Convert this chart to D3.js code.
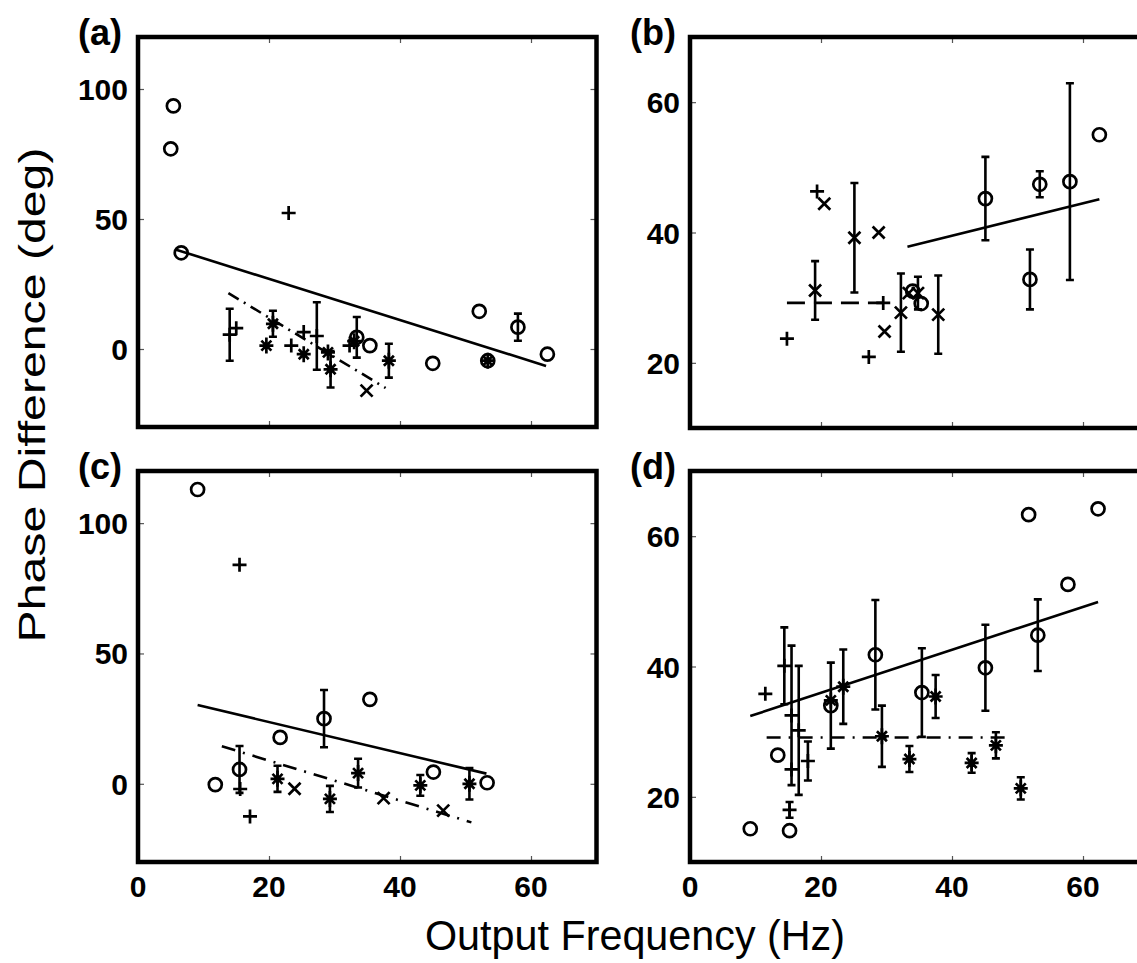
<!DOCTYPE html>
<html>
<head>
<meta charset="utf-8">
<script src="https://cdn.jsdelivr.net/npm/d3@7"></script>
<style>
  body { margin: 0; background: #fff; }
  svg { display: block; }
  text { font-family: 'Liberation Sans', Arial, sans-serif; }
</style>
</head>
<body>
<div id="chart"></div>
<script>
// values: [freq (Hz), phase (deg), error]
const aCircle = [[5.4, 93.5, 0], [5.0, 77, 0], [6.6, 37, 0], [33.4, 4.5, 7.8], [35.4, 1.3, 0],
  [45, -5.5, 0], [52.1, 14.5, 0], [53.4, -4.5, 0], [58, 8.4, 5.2], [62.5, -2, 0]];
const aPlus = [[23, 52.3, 0], [14, 5.5, 10], [15, 8, 0], [23.4, 1.3, 0], [25.3, 6.5, 0],
  [27.3, 5, 13], [32.3, 1.3, 0]];
const aStar = [[19.6, 1.3, 0], [20.6, 9.7, 5], [25.3, -2, 0], [29, -1.3, 0], [29.4, -7.8, 7],
  [33, 3, 0], [38.3, -4.5, 6.5], [53.4, -4.5, 0]];
const aCross = [[34.9, -16, 0]];
const aFit = [[5.7, 38.3], [62.3, -6.5]];
const aDash = [[13.8, 21.5], [37.8, -15]];

const bCircle = [[45.1, 45.2, 6.4], [51.9, 32.8, 4.6], [53.4, 47.4, 2], [58, 47.8, 15.1],
  [62.5, 55, 0], [35.3, 29.1, 0], [34, 31, 0]];
const bPlus = [[14.8, 23.7, 0], [19.4, 46.3, 0], [29.5, 29.2, 0], [27.3, 20.9, 0]];
const bCross = [[20.5, 44.4, 0], [19.1, 31.1, 4.5], [25.1, 39.2, 8.4], [28.8, 40, 0],
  [29.7, 24.8, 0], [32.2, 27.7, 6], [33.4, 30.7, 0], [34.8, 30.7, 2.5], [37.9, 27.4, 6]];
const bStar = [];
const bFit = [[33.2, 37.8], [62.5, 45.1]];
const bDash = [[14.8, 29.2], [29.5, 29.2]];

const cCircle = [[9.1, 112.9, 0], [11.8, -0.3, 0], [15.5, 5.5, 9], [21.7, 17.8, 0],
  [28.4, 25, 11], [35.4, 32.4, 0], [45.1, 4.5, 0], [53.3, 0.4, 0]];
const cPlus = [[15.5, 84, 0], [15.6, -2, 0], [17.1, -12.5, 0]];
const cStar = [[21.3, 1.9, 5], [29.3, -5.8, 5], [33.6, 4.1, 5.5], [43.1, -0.6, 4], [50.6, 0, 6]];
const cCross = [[23.9, -1.9, 0], [37.5, -5.5, 0], [46.6, -10.3, 0]];
const cFit = [[9.1, 30.2], [53.2, 3.9]];
const cDash = [[12.8, 14.4], [50.9, -14.8]];

const dCircle = [[9.2, 15.1, 0], [15.2, 14.8, 0], [13.4, 26.4, 0], [21.5, 34, 6.6],
  [28.3, 41.8, 8.4], [35.4, 36, 6.8], [45.1, 39.8, 6.6], [53.1, 44.8, 5.5],
  [51.7, 63.3, 0], [57.7, 52.6, 0], [62.3, 64.2, 0]];
const dPlus = [[11.5, 35.8, 0], [14.4, 40.1, 5.9], [15.5, 32.5, 10.7], [15.5, 24.2, 0],
  [16.6, 30.2, 9.9], [18.0, 25.5, 3], [15.2, 18, 1.2]];
const dStar = [[21.5, 34.8, 0], [23.4, 36.9, 5.7], [29.3, 29.3, 4.7], [33.5, 25.8, 2],
  [37.5, 35.4, 3.3], [43, 25.2, 1.5], [46.7, 27.9, 2], [50.5, 21.3, 1.7]];
const dCross = [];
const dFit = [[9.2, 32.4], [62.3, 49.9]];
const dDash = [[11.7, 29.1], [49.1, 29.1]];

const xTicks = [0, 20, 40, 60];
const yTicksWide = [0, 50, 100];
const yTicksNarrow = [20, 40, 60];

const panels = [
  { tag: '(a)', left: 138, top: 37, bottom: 427, yDom: [-30, 120], yTicks: yTicksWide, xLabels: false,
    circle: aCircle, plus: aPlus, star: aStar, cross: aCross, fit: aFit, dash: aDash, dashArr: '12,6,2,6' },
  { tag: '(b)', left: 690, top: 37, bottom: 428, yDom: [10, 70], yTicks: yTicksNarrow, xLabels: false,
    circle: bCircle, plus: bPlus, star: bStar, cross: bCross, fit: bFit, dash: bDash, dashArr: '18,9' },
  { tag: '(c)', left: 138, top: 471, bottom: 862, yDom: [-30, 120], yTicks: yTicksWide, xLabels: true,
    circle: cCircle, plus: cPlus, star: cStar, cross: cCross, fit: cFit, dash: cDash, dashArr: '14,8,2,8' },
  { tag: '(d)', left: 690, top: 471, bottom: 862, yDom: [10, 70], yTicks: yTicksNarrow, xLabels: true,
    circle: dCircle, plus: dPlus, star: dStar, cross: dCross, fit: dFit, dash: dDash, dashArr: '14,8,2,8' }
];

const W = 1137, H = 963;
const pxPerHz = 6.55;

const svg = d3.select('#chart').append('svg')
  .attr('width', W)
  .attr('height', H);

const markerPath = {
  plus: 'M-7,0H7M0,-7V7',
  cross: 'M-6,-6L6,6M-6,6L6,-6',
  star: 'M-7,0H7M0,-8V8M-5,-5L5,5M-5,5L5,-5'
};

panels.forEach(p => {
  const right = p.left + 70 * pxPerHz;
  const x = d3.scaleLinear().domain([0, 70]).range([p.left, right]);
  const y = d3.scaleLinear().domain(p.yDom).range([p.bottom, p.top]);
  const g = svg.append('g');

  // small inward ticks on every side
  g.append('g').attr('transform', `translate(0,${p.bottom})`)
    .call(d3.axisBottom(x).tickValues(xTicks.slice(1)).tickSize(-6).tickFormat(''));
  g.append('g').attr('transform', `translate(0,${p.top})`)
    .call(d3.axisTop(x).tickValues(xTicks.slice(1)).tickSize(-6).tickFormat(''));
  g.append('g').attr('transform', `translate(${p.left},0)`)
    .call(d3.axisLeft(y).tickValues(p.yTicks).tickSize(-6).tickFormat(''));
  g.append('g').attr('transform', `translate(${right},0)`)
    .call(d3.axisRight(y).tickValues(p.yTicks).tickSize(-6).tickFormat(''));
  g.selectAll('.domain').remove();
  g.selectAll('.tick line').attr('stroke', '#555').attr('stroke-width', 1.2);

  g.append('rect')
    .attr('x', p.left).attr('y', p.top)
    .attr('width', right - p.left).attr('height', p.bottom - p.top)
    .attr('fill', 'none').attr('stroke', '#000').attr('stroke-width', 4.5);

  // y tick labels
  g.selectAll('.ylab').data(p.yTicks).join('text')
    .attr('x', p.left - 10).attr('y', d => y(d) + 11)
    .attr('text-anchor', 'end')
    .style('font-size', '30px').style('font-weight', 'bold')
    .text(d => d);

  if (p.xLabels) {
    g.selectAll('.xlab').data(xTicks).join('text')
      .attr('x', d => x(d)).attr('y', p.bottom + 35)
      .attr('text-anchor', 'middle')
      .style('font-size', '30px').style('font-weight', 'bold')
      .text(d => d);
  }

  g.append('text')
    .attr('x', p.left - 60).attr('y', p.top + 8)
    .style('font-size', '36px').style('font-weight', 'bold')
    .text(p.tag);

  const line = d3.line().x(d => x(d[0])).y(d => y(d[1]));
  g.append('path').attr('d', line(p.fit))
    .attr('fill', 'none').attr('stroke', '#000').attr('stroke-width', 2.6);
  g.append('path').attr('d', line(p.dash))
    .attr('fill', 'none').attr('stroke', '#000').attr('stroke-width', 2.6)
    .attr('stroke-dasharray', p.dashArr);

  const all = [].concat(
    p.circle.map(d => ({ d, t: 'circle' })),
    p.plus.map(d => ({ d, t: 'plus' })),
    p.star.map(d => ({ d, t: 'star' })),
    p.cross.map(d => ({ d, t: 'cross' }))
  );

  // error bars
  g.selectAll('.bar').data(all.filter(m => m.d[2] > 0)).join('path')
    .attr('d', m => {
      const cx = x(m.d[0]);
      const y1 = y(m.d[1] - m.d[2]), y2 = y(m.d[1] + m.d[2]);
      return `M${cx},${y1}V${y2}M${cx - 4},${y1}H${cx + 4}M${cx - 4},${y2}H${cx + 4}`;
    })
    .attr('fill', 'none').attr('stroke', '#000').attr('stroke-width', 2.6);

  g.selectAll('.mc').data(all.filter(m => m.t === 'circle')).join('circle')
    .attr('cx', m => x(m.d[0])).attr('cy', m => y(m.d[1]))
    .attr('r', 6.5)
    .attr('fill', 'none').attr('stroke', '#000').attr('stroke-width', 2.7);

  g.selectAll('.mp').data(all.filter(m => m.t !== 'circle')).join('path')
    .attr('transform', m => `translate(${x(m.d[0])},${y(m.d[1])})`)
    .attr('d', m => markerPath[m.t])
    .attr('fill', 'none').attr('stroke', '#000').attr('stroke-width', 2.7);
});

svg.append('text')
  .attr('transform', 'translate(45,395) rotate(-90)')
  .attr('text-anchor', 'middle')
  .attr('textLength', 495).attr('lengthAdjust', 'spacingAndGlyphs')
  .style('font-size', '36px')
  .text('Phase Difference (deg)');

svg.append('text')
  .attr('x', 635).attr('y', 950)
  .attr('text-anchor', 'middle')
  .attr('textLength', 420).attr('lengthAdjust', 'spacingAndGlyphs')
  .style('font-size', '42px')
  .text('Output Frequency (Hz)');
</script>
</body>
</html>
